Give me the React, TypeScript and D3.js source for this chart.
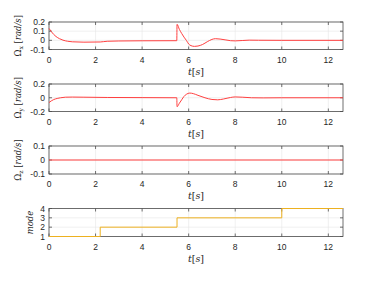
import React from "react";
import * as d3 from "d3";

// time grid shared by all panels
const X_TICKS = [0, 2, 4, 6, 8, 10, 12];
const T_END = 12.63;

// Omega_x samples [t, rad/s]
const omegaX: [number, number][] = [
  [0, 0.13], [0.1, 0.095], [0.2, 0.065], [0.3, 0.042], [0.45, 0.018], [0.6, 0.002],
  [0.8, -0.01], [1.0, -0.016], [1.5, -0.02], [2.2, -0.018], [2.5, -0.01], [3, -0.007],
  [4, -0.005], [5.49, -0.004], [5.5, 0.175], [5.6, 0.12], [5.7, 0.075], [5.8, 0.035],
  [5.9, 0.0], [6.0, -0.04], [6.1, -0.058], [6.25, -0.066], [6.4, -0.062], [6.6, -0.045],
  [6.8, -0.015], [7.0, 0.01], [7.15, 0.018], [7.35, 0.014], [7.6, 0.004], [7.8, -0.004],
  [8.0, -0.006], [8.3, -0.002], [8.6, 0.002], [9.0, 0.001], [10, 0], [T_END, 0],
];

// Omega_y samples [t, rad/s]
const omegaY: [number, number][] = [
  [0, -0.07], [0.1, -0.045], [0.2, -0.027], [0.35, -0.01], [0.5, 0.0], [0.7, 0.008],
  [1.0, 0.01], [1.5, 0.008], [2.5, 0.004], [4, 0.002], [5.49, 0.0], [5.5, -0.13],
  [5.6, -0.08], [5.7, -0.03], [5.8, 0.02], [5.9, 0.05], [6.05, 0.068], [6.2, 0.06],
  [6.4, 0.035], [6.7, 0.0], [7.0, -0.025], [7.25, -0.03], [7.5, -0.018], [7.8, 0.004],
  [8.0, 0.012], [8.3, 0.008], [8.7, 0.0], [9.2, -0.002], [10, 0], [T_END, 0],
];

// Omega_z samples [t, rad/s]
const omegaZ: [number, number][] = [[0, 0], [T_END, 0]];

// mode switching times and values
const modeTimes = [0, 2.2, 5.5, 10, T_END];
const modeValues = [1, 2, 3, 4, 4];

interface Panel {
  top: number;
  bottom: number;
  domain: [number, number];
  ticks: number[];
  tickLabels: string[];
  data: [number, number][];
  color: string;
  step: boolean;
  label: React.ReactNode;
  labelX: number;
}

const serif = "'DejaVu Serif', 'Liberation Serif', serif";

const omegaLabel = (sub: string) => (
  <>Ω<tspan fontSize={6} dy={2}>{sub}</tspan><tspan dy={-2}> [</tspan><tspan fontStyle="italic">rad/s</tspan>]</>
);

const panels: Panel[] = [
  {
    top: 22, bottom: 49.5, domain: [-0.1, 0.2], ticks: [-0.1, 0, 0.1, 0.2],
    tickLabels: ["-0.1", "0", "0.1", "0.2"], data: omegaX, color: "#ff4040", step: false,
    label: omegaLabel("x"), labelX: 21,
  },
  {
    top: 84, bottom: 111.5, domain: [-0.2, 0.2], ticks: [-0.2, 0, 0.2],
    tickLabels: ["-0.2", "0", "0.2"], data: omegaY, color: "#ff4040", step: false,
    label: omegaLabel("y"), labelX: 21,
  },
  {
    top: 146, bottom: 174, domain: [-0.1, 0.1], ticks: [-0.1, 0, 0.1],
    tickLabels: ["-0.1", "0", "0.1"], data: omegaZ, color: "#ff4040", step: false,
    label: omegaLabel("z"), labelX: 21,
  },
  {
    top: 208.5, bottom: 236.5, domain: [1, 4], ticks: [1, 2, 3, 4],
    tickLabels: ["1", "2", "3", "4"],
    data: modeTimes.map((t, i) => [t, modeValues[i]] as [number, number]),
    color: "#edb120", step: true,
    label: <tspan fontStyle="italic">mode</tspan>,
    labelX: 33,
  },
];

const LEFT = 49;
const RIGHT = 343;

const App = () => {
  const x = d3.scaleLinear().domain([0, T_END]).range([LEFT, RIGHT]);

  return (
    <svg width={379} height={285} style={{ position: "absolute", left: 0, top: 0, background: "#fff" }}
      fontFamily="'Liberation Sans', Arial, sans-serif">
      {panels.map((p, pi) => {
        const y = d3.scaleLinear().domain(p.domain).range([p.bottom, p.top]);
        const line = d3.line<[number, number]>()
          .x(d => x(d[0]))
          .y(d => y(d[1]))
          .curve(p.step ? d3.curveStepAfter : d3.curveMonotoneX);
        const mid = (p.top + p.bottom) / 2;
        return (
          <g key={pi}>
            {/* grid */}
            {X_TICKS.map(t => (
              <line key={"gx" + t} x1={x(t)} x2={x(t)} y1={p.top} y2={p.bottom} stroke="#e6e6e6" strokeWidth={0.6} />
            ))}
            {p.ticks.map(t => (
              <line key={"gy" + t} x1={LEFT} x2={RIGHT} y1={y(t)} y2={y(t)} stroke="#e6e6e6" strokeWidth={0.6} />
            ))}
            {/* box */}
            <rect x={LEFT} y={p.top} width={RIGHT - LEFT} height={p.bottom - p.top} fill="none" stroke="#4d4d4d" strokeWidth={0.8} />
            {/* ticks */}
            {X_TICKS.map(t => (
              <g key={"tx" + t}>
                <line x1={x(t)} x2={x(t)} y1={p.bottom} y2={p.bottom - 3} stroke="#4d4d4d" strokeWidth={0.8} />
                <line x1={x(t)} x2={x(t)} y1={p.top} y2={p.top + 3} stroke="#4d4d4d" strokeWidth={0.8} />
                <text x={x(t)} y={p.bottom + 13} fontSize={8.5} textAnchor="middle" fill="#262626">{t}</text>
              </g>
            ))}
            {p.ticks.map((t, i) => (
              <g key={"ty" + t}>
                <line x1={LEFT} x2={LEFT + 3} y1={y(t)} y2={y(t)} stroke="#4d4d4d" strokeWidth={0.8} />
                <line x1={RIGHT} x2={RIGHT - 3} y1={y(t)} y2={y(t)} stroke="#4d4d4d" strokeWidth={0.8} />
                <text x={LEFT - 4} y={y(t) + 3} fontSize={8.5} textAnchor="end" fill="#262626">{p.tickLabels[i]}</text>
              </g>
            ))}
            {/* data */}
            <path d={line(p.data) ?? ""} fill="none" stroke={p.color} strokeWidth={1} />
            {/* axis labels */}
            <text x={(LEFT + RIGHT) / 2} y={p.bottom + 25} fontSize={9.5} textAnchor="middle" fontFamily={serif} fill="#262626">
              <tspan fontStyle="italic">t</tspan>[<tspan fontStyle="italic">s</tspan>]
            </text>
            <text transform={`translate(${p.labelX},${mid}) rotate(-90)`} fontSize={8.5} textAnchor="middle"
              fontFamily={serif} fill="#262626">
              {p.label}
            </text>
          </g>
        );
      })}
    </svg>
  );
};

export default App;
